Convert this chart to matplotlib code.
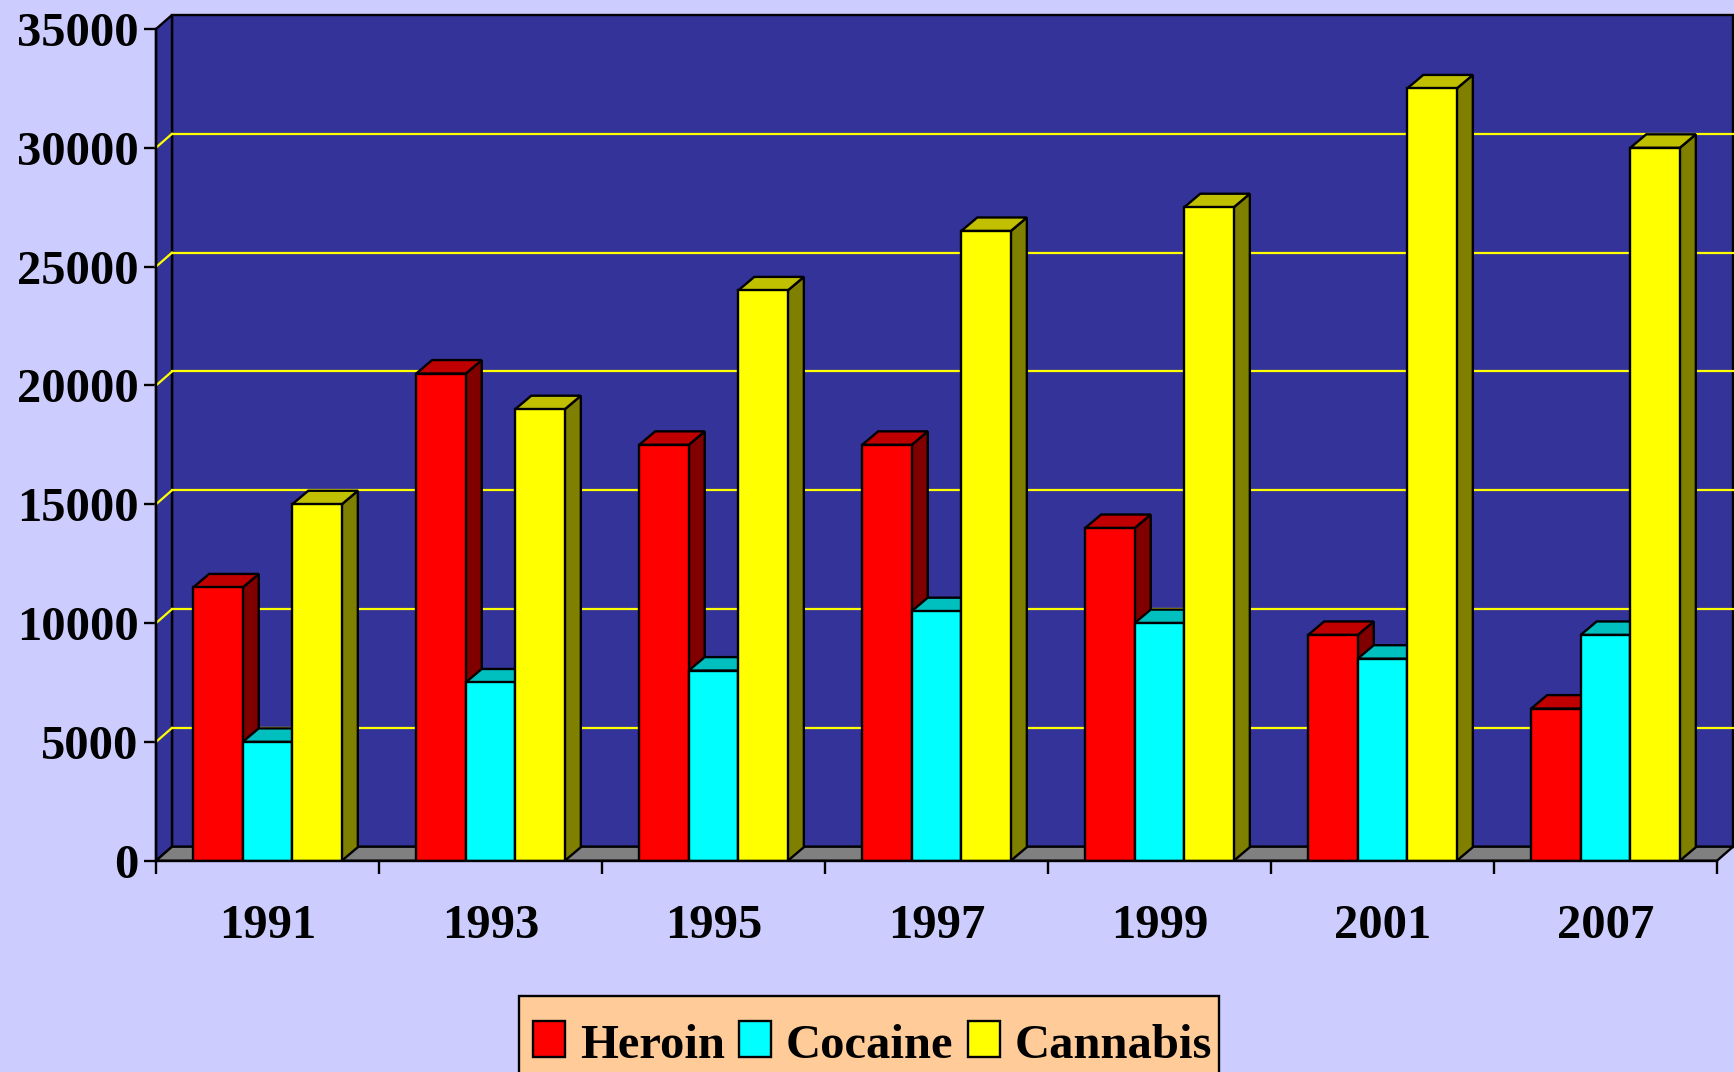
import matplotlib
matplotlib.use("Agg")
import matplotlib.pyplot as plt
import matplotlib.patches as mpatches
import matplotlib.transforms as mtransforms

# ---- data ----
years = ["1991", "1993", "1995", "1997", "1999", "2001", "2007"]
series_names = ["Heroin", "Cocaine", "Cannabis"]
heroin = [11500, 20500, 17500, 17500, 14000, 9500, 6400]
cocaine = [5000, 7500, 8000, 10500, 10000, 8500, 9500]
cannabis = [15000, 19000, 24000, 26500, 27500, 32500, 30000]
y_ticks = [0, 5000, 10000, 15000, 20000, 25000, 30000, 35000]

series = [heroin, cocaine, cannabis]
front_cols = ["#FF0000", "#00FFFF", "#FFFF00"]
top_cols = ["#C00000", "#00BFBF", "#C0C000"]
side_cols = ["#800000", "#008080", "#808000"]

W, H = 1734, 1072
BG = "#CCCCFF"
WALL = "#333399"
FONT = "Liberation Serif"
FS = 35

fig = plt.figure(figsize=(W / 100, H / 100), dpi=100, facecolor=BG)
# front plane geometry in pixels
x0, x1 = 156, 1717
y0, y1 = 860.7, 29
ax = fig.add_axes([x0 / W, 1 - y0 / H, (x1 - x0) / W, (y0 - y1) / H])
ax.set_facecolor("none")
ncat = len(years)
ymax = y_ticks[-1]
ax.set_xlim(0, ncat)
ax.set_ylim(0, ymax)

# depth offsets converted into data units
dx = 16 / (x1 - x0) * ncat
dy = 14 / (y0 - y1) * ymax
bdy = 13.5 / (y0 - y1) * ymax

lw = 1.7
# back wall
ax.add_patch(mpatches.Rectangle((dx, dy), ncat, ymax, facecolor=WALL,
                                edgecolor="black", lw=lw, zorder=1, clip_on=False))
# left wall
ax.add_patch(mpatches.Polygon([(0, 0), (dx, dy), (dx, ymax + dy), (0, ymax)],
                              closed=True, facecolor=WALL, edgecolor="black",
                              lw=lw, zorder=1, clip_on=False))
# gridlines
for v in y_ticks[1:-1]:
    ax.plot([dx, ncat + dx], [v + dy, v + dy], color="#FFFF00", lw=1.6,
            zorder=2, clip_on=False)
    ax.plot([0, dx], [v, v + dy], color="#FFFF00", lw=1.6, zorder=2, clip_on=False)
# floor
ax.add_patch(mpatches.Polygon([(0, 0), (ncat, 0), (ncat + dx, dy), (dx, dy)],
                              closed=True, facecolor="#808080", edgecolor="black",
                              lw=lw, zorder=3, clip_on=False))

# bars
bw = 1 / (3 + 1.5)
off = 0.75 * bw
z = 10
for i in range(ncat):
    for s in range(3):
        h = series[s][i]
        xl = i + off + s * bw
        xr = xl + bw
        ax.add_patch(mpatches.Polygon([(xr, 0), (xr + dx, bdy), (xr + dx, h + bdy), (xr, h)],
                                      closed=True, facecolor=side_cols[s],
                                      edgecolor="black", lw=lw, zorder=z, clip_on=False))
        ax.add_patch(mpatches.Polygon([(xl, h), (xr, h), (xr + dx, h + bdy), (xl + dx, h + bdy)],
                                      closed=True, facecolor=top_cols[s],
                                      edgecolor="black", lw=lw, zorder=z + 1, clip_on=False))
        ax.bar([xl], [h], width=bw, align="edge", color=front_cols[s],
               edgecolor="black", linewidth=lw, zorder=z + 2)
        z += 3

# axes / ticks
for sp in ["top", "right"]:
    ax.spines[sp].set_visible(False)
for sp in ["left", "bottom"]:
    ax.spines[sp].set_linewidth(lw)
    ax.spines[sp].set_zorder(200)
ax.set_yticks(y_ticks)
ax.set_yticklabels([str(v) for v in y_ticks], fontfamily=FONT, fontweight="bold",
                   fontsize=FS)
ax.tick_params(axis="y", direction="out", length=8.5, width=lw, pad=4)
ax.set_xticks(range(ncat + 1))
ax.set_xticklabels([""] * (ncat + 1))
ax.set_xticks([i + 0.5 for i in range(ncat)], minor=True)
ax.set_xticklabels(years, minor=True, fontfamily=FONT, fontweight="bold", fontsize=FS)
ax.tick_params(axis="x", which="major", direction="out", length=9.5, width=lw)
ax.tick_params(axis="x", which="minor", length=0, pad=31)

# legend (pixel coordinates, y downwards)
pix = mtransforms.Affine2D().scale(1 / W, -1 / H).translate(0, 1) + fig.transFigure
fig.patches.append(mpatches.Rectangle((519, 996), 700, 90, transform=pix,
                                      facecolor="#FFCC99", edgecolor="black",
                                      lw=lw, figure=fig, zorder=1))
leg_patch_x = [533, 739, 968]
leg_text_x = [580, 786, 1015]
for s in range(3):
    fig.patches.append(mpatches.Rectangle((leg_patch_x[s], 1021), 32, 36, transform=pix,
                                          facecolor=front_cols[s], edgecolor="black",
                                          lw=lw, figure=fig, zorder=2))
    fig.text(leg_text_x[s], 1058, series_names[s], transform=pix, ha="left",
             va="baseline", fontfamily=FONT, fontweight="bold", fontsize=FS, zorder=3)

fig.savefig("out.png", dpi=100, facecolor=BG)
